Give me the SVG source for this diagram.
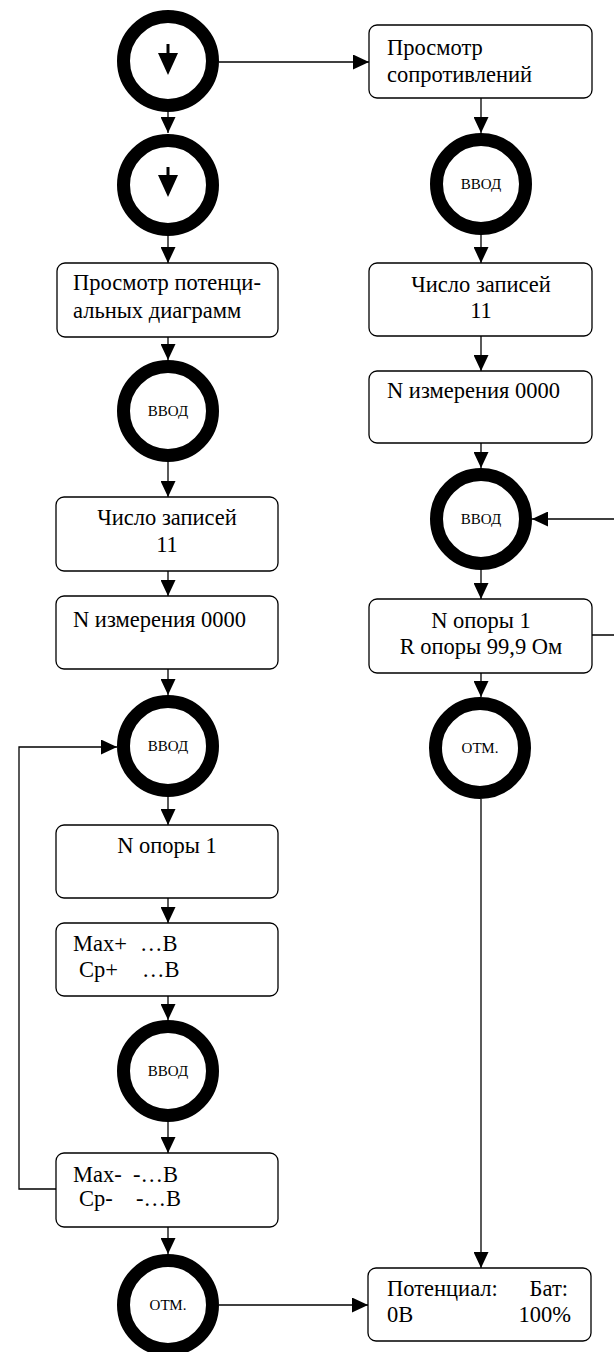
<svg xmlns="http://www.w3.org/2000/svg" width="614" height="1352" viewBox="0 0 614 1352">
<defs>
<marker id="ah" markerUnits="userSpaceOnUse" markerWidth="16" markerHeight="15" refX="16" refY="7.5" orient="auto">
<path d="M0,0 L16,7.5 L0,15 z" fill="#000"/>
</marker>
<style>
.box{fill:#fff;stroke:#000;stroke-width:1.3}
.ring{fill:#fff;stroke:#000;stroke-width:13}
.t{font-family:'Liberation Serif',serif;font-size:22.5px;fill:#000}
.s{font-family:'Liberation Serif',serif;font-size:15px;fill:#000;text-anchor:middle}
.c{text-anchor:middle}
.e{text-anchor:end}
.ln{fill:none;stroke:#000;stroke-width:1.3;marker-end:url(#ah)}
</style>
</defs>
<rect width="614" height="1352" fill="#fff"/>
<g id="connectors">
<path class="ln" d="M168,112 V133"/>
<path class="ln" d="M219,62 H369"/>
<path class="ln" d="M168,236 V263"/>
<path class="ln" d="M168,337 V360"/>
<path class="ln" d="M168,462 V497"/>
<path class="ln" d="M168,571 V596"/>
<path class="ln" d="M168,669 V695"/>
<path class="ln" d="M168,797 V825"/>
<path class="ln" d="M168,898 V923"/>
<path class="ln" d="M168,996 V1020"/>
<path class="ln" d="M168,1122 V1153"/>
<path class="ln" d="M168,1227 V1254"/>
<path class="ln" d="M219,1305 H368"/>
<path class="ln" d="M56,1189 H19 V747 H117"/>
<path class="ln" d="M481,98 V133"/>
<path class="ln" d="M481,235 V263"/>
<path class="ln" d="M481,336 V371"/>
<path class="ln" d="M481,443 V468"/>
<path class="ln" d="M481,570 V599"/>
<path class="ln" d="M481,673 V697"/>
<path class="ln" d="M481,799 V1268"/>
<path class="ln" d="M592,635 H616 V519 H532"/>
</g>
<g id="start1">
<circle class="ring" cx="168" cy="61" r="44.5"/>
<path d="M168,44 V54" stroke="#000" stroke-width="3"/>
<path d="M158,53 L178,53 L168,75 z" fill="#000"/>
</g>
<g id="start2">
<circle class="ring" cx="168" cy="185" r="44.5"/>
<path d="M168,167 V176" stroke="#000" stroke-width="3"/>
<path d="M158,175 L178,175 L168,197 z" fill="#000"/>
</g>
<g id="boxPotDiag">
<rect class="box" x="57" y="263" width="221" height="74" rx="8"/>
<text class="t" x="73" y="290">Просмотр потенци-</text>
<text class="t" x="73" y="318">альных диаграмм</text>
</g>
<g id="vvodL1">
<circle class="ring" cx="168" cy="411" r="44.5"/>
<text class="s" x="168" y="416">ВВОД</text>
</g>
<g id="boxCountL">
<rect class="box" x="56" y="497" width="222" height="74" rx="8"/>
<text class="t c" x="167" y="525">Число записей</text>
<text class="t c" x="167" y="552">11</text>
</g>
<g id="boxMeasL">
<rect class="box" x="56" y="596" width="222" height="73" rx="8"/>
<text class="t" x="73" y="627">N измерения 0000</text>
</g>
<g id="vvodL2">
<circle class="ring" cx="168" cy="746" r="44.5"/>
<text class="s" x="168" y="751">ВВОД</text>
</g>
<g id="boxSupportL">
<rect class="box" x="56" y="825" width="222" height="73" rx="8"/>
<text class="t c" x="167" y="853">N опоры 1</text>
</g>
<g id="boxMaxPlus">
<rect class="box" x="56" y="923" width="222" height="73" rx="8"/>
<text class="t" x="73" y="951">Max+</text>
<text class="t" x="140" y="951">…В</text>
<text class="t" x="79" y="977">Ср+</text>
<text class="t" x="142" y="977">…В</text>
</g>
<g id="vvodL3">
<circle class="ring" cx="168" cy="1071" r="44.5"/>
<text class="s" x="168" y="1076">ВВОД</text>
</g>
<g id="boxMaxMinus">
<rect class="box" x="56" y="1153" width="222" height="74" rx="8"/>
<text class="t" x="73" y="1182">Max-</text>
<text class="t" x="133" y="1182">-…В</text>
<text class="t" x="79" y="1206">Ср-</text>
<text class="t" x="136" y="1206">-…В</text>
</g>
<g id="otmL">
<circle class="ring" cx="168" cy="1305" r="44.5"/>
<text class="s" x="168" y="1310">ОТМ.</text>
</g>
<g id="boxResist">
<rect class="box" x="369" y="25" width="223" height="73" rx="8"/>
<text class="t" x="387" y="55">Просмотр</text>
<text class="t" x="387" y="82">сопротивлений</text>
</g>
<g id="vvodR1">
<circle class="ring" cx="481" cy="184" r="44.5"/>
<text class="s" x="481" y="189">ВВОД</text>
</g>
<g id="boxCountR">
<rect class="box" x="369" y="263" width="223" height="73" rx="8"/>
<text class="t c" x="481" y="292">Число записей</text>
<text class="t c" x="481" y="318">11</text>
</g>
<g id="boxMeasR">
<rect class="box" x="369" y="371" width="223" height="72" rx="8"/>
<text class="t" x="387" y="398">N измерения 0000</text>
</g>
<g id="vvodR2">
<circle class="ring" cx="481" cy="519" r="44.5"/>
<text class="s" x="481" y="524">ВВОД</text>
</g>
<g id="boxSupportR">
<rect class="box" x="369" y="599" width="223" height="74" rx="8"/>
<text class="t c" x="481" y="628">N опоры 1</text>
<text class="t c" x="481" y="654">R опоры 99,9 Ом</text>
</g>
<g id="otmR">
<circle class="ring" cx="480" cy="748" r="44.5"/>
<text class="s" x="480" y="753">ОТМ.</text>
</g>
<g id="boxPotential">
<rect class="box" x="368" y="1268" width="223" height="73" rx="8"/>
<text class="t" x="387" y="1296">Потенциал:</text>
<text class="t e" x="568" y="1296">Бат:</text>
<text class="t" x="387" y="1322">0В</text>
<text class="t e" x="571" y="1322">100%</text>
</g>
</svg>
